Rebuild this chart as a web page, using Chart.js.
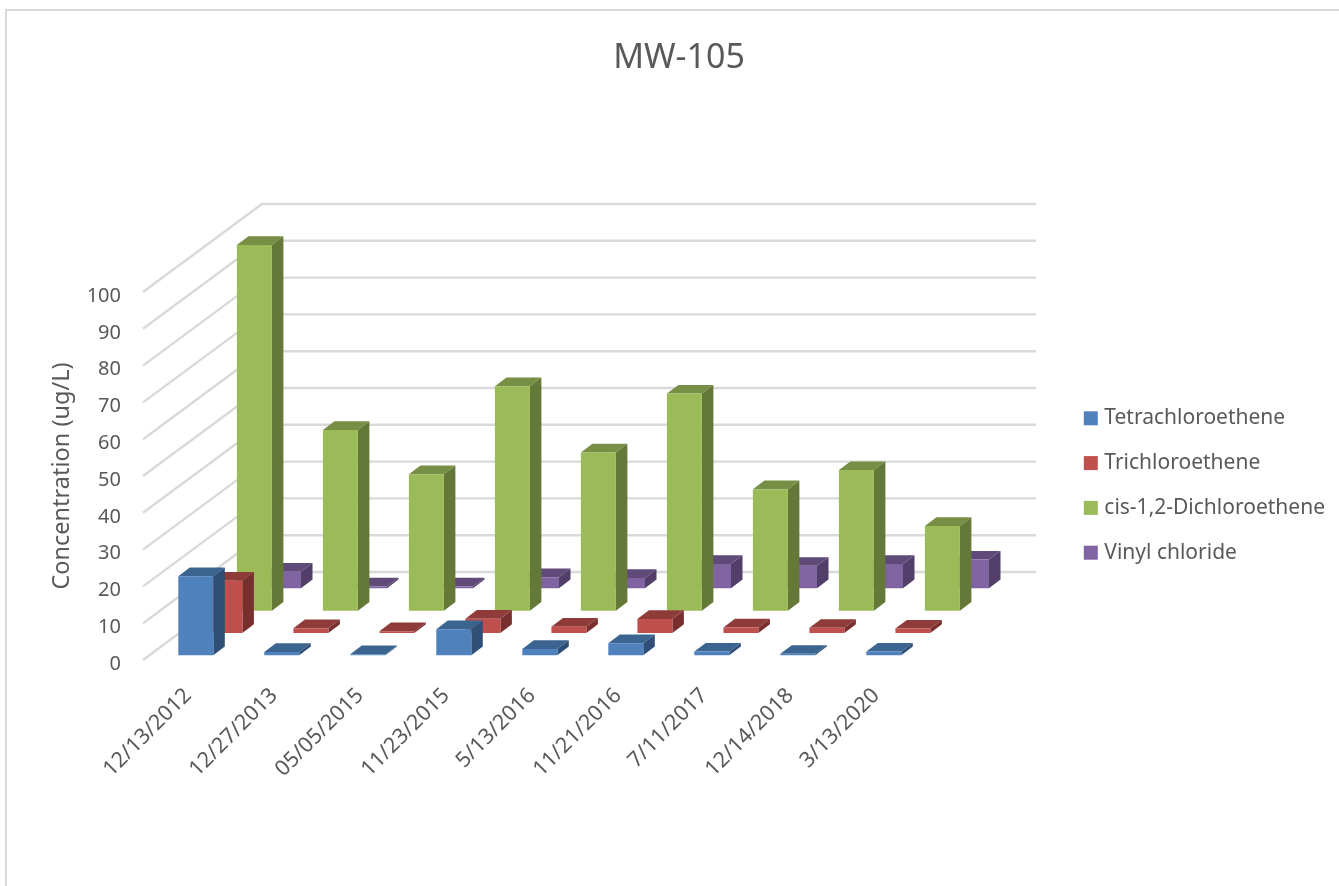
<!DOCTYPE html>
<html>
<head>
<meta charset="utf-8">
<title>MW-105</title>
<script src="https://cdn.jsdelivr.net/npm/chart.js@4/dist/chart.umd.min.js"></script>
<style>
    html, body { margin: 0; padding: 0; background: #fff; overflow: hidden; }
    canvas { display: block; }
</style>
</head>
<body>
<canvas id="chart" width="1339" height="886"></canvas>
<script>
const sampleDates = ['12/13/2012', '12/27/2013', '05/05/2015', '11/23/2015', '5/13/2016', '11/21/2016', '7/11/2017', '12/14/2018', '3/13/2020'];
const tetrachloroethene = [21.5, 0.9, 0.3, 7.1, 1.7, 3.3, 1.0, 0.4, 1.0];
const trichloroethene = [14.2, 1.3, 0.5, 3.9, 1.7, 3.8, 1.5, 1.4, 1.2];
const dichloroethene = [99.4, 49.1, 37.1, 61.0, 43.0, 59.0, 33.0, 38.2, 23.0];
const vinylChloride = [4.5, 0.5, 0.5, 3.0, 2.8, 6.6, 6.1, 6.6, 7.8];
const yTicks = [0, 10, 20, 30, 40, 50, 60, 70, 80, 90, 100];

const TEXT = '#595959';
const GRID = '#d9d9d9';
const FONT = '"Noto Sans", sans-serif';

// pseudo-3D look: how far the back wall sits from the front plane,
// where each row of bars starts, and how deep a bar is
const wall = { dx: 119, dy: 88, width: 774 };
const rows = [
    { dx: 9.8, dy: 4.7 },
    { dx: 38.9, dy: 27 },
    { dx: 68.4, dy: 49.3 },
    { dx: 97.5, dy: 71.7 }
];
const barDepth = { dx: 11.5, dy: 8.7 };

const shades = [
    { front: '#4f81bd', top: '#3c6490', side: '#2f4f76' },
    { front: '#c0504d', top: '#8f3b39', side: '#782f2d' },
    { front: '#9bbb59', top: '#778f44', side: '#647838' },
    { front: '#8064a2', top: '#604a7a', side: '#523f69' }
];

function face(ctx, color, points) {
    ctx.fillStyle = color;
    ctx.beginPath();
    points.forEach((p, i) => i ? ctx.lineTo(p[0], p[1]) : ctx.moveTo(p[0], p[1]));
    ctx.closePath();
    ctx.fill();
}

const walls3d = {
    id: 'walls3d',
    afterLayout(chart) {
        // legend and title sit where the layout engine would not put them
        const legend = chart.legend;
        legend.left = 1064;
        legend.right = legend.left + legend.width;
        legend.top = 384;
        legend.bottom = legend.top + legend.height;
        chart.titleBlock.left = 19;
        chart.titleBlock.right = 1339;
    },
    beforeDraw(chart) {
        // chart frame, only its top and left edges are in view
        const ctx = chart.ctx;
        ctx.save();
        ctx.strokeStyle = GRID;
        ctx.lineWidth = 2;
        ctx.beginPath();
        ctx.moveTo(6, chart.height);
        ctx.lineTo(6, 10);
        ctx.lineTo(chart.width, 10);
        ctx.stroke();
        ctx.restore();
    },
    beforeDatasetsDraw(chart) {
        const ctx = chart.ctx;
        const y = chart.scales.y;
        const x0 = chart.chartArea.left;
        ctx.save();
        ctx.strokeStyle = GRID;
        ctx.lineWidth = 2.4;
        y.ticks.forEach(t => {
            const py = y.getPixelForValue(t.value);
            ctx.beginPath();
            ctx.moveTo(x0, py);
            ctx.lineTo(x0 + wall.dx, py - wall.dy);
            ctx.lineTo(x0 + wall.dx + wall.width, py - wall.dy);
            ctx.stroke();
        });
        ctx.restore();
    },
    beforeDatasetDraw() {
        // the flat bars are replaced by the boxes below
        return false;
    },
    afterDatasetsDraw(chart) {
        const ctx = chart.ctx;
        // back row first so nearer boxes cover it
        for (let i = chart.data.datasets.length - 1; i >= 0; i--) {
            const c = shades[i];
            chart.getDatasetMeta(i).data.forEach(bar => {
                const l = bar.x - bar.width / 2 + rows[i].dx;
                const r = l + bar.width;
                const t = bar.y - rows[i].dy;
                const b = bar.base - rows[i].dy;
                const dx = barDepth.dx, dy = barDepth.dy;
                face(ctx, c.top, [[l, t], [l + dx, t - dy], [r + dx, t - dy], [r, t]]);
                face(ctx, c.side, [[r, t], [r + dx, t - dy], [r + dx, b - dy], [r, b]]);
                face(ctx, c.front, [[l, t], [r, t], [r, b], [l, b]]);
            });
        }
    }
};

// borderWidth only thickens the legend swatch here, the boxes ignore it
function series(label, data, color) {
    return { label, data, backgroundColor: color, borderColor: color, borderWidth: 8 };
}

new Chart(document.getElementById('chart'), {
    type: 'bar',
    data: {
        labels: sampleDates,
        datasets: [
            series('Tetrachloroethene', tetrachloroethene, shades[0].front),
            series('Trichloroethene', trichloroethene, shades[1].front),
            series('cis-1,2-Dichloroethene', dichloroethene, shades[2].front),
            series('Vinyl chloride', vinylChloride, shades[3].front)
        ]
    },
    plugins: [walls3d],
    options: {
        responsive: false,
        animation: false,
        layout: { padding: { left: 0, right: 422, top: 0, bottom: 106 } },
        datasets: { bar: { grouped: false, categoryPercentage: 1, barPercentage: 0.407 } },
        scales: {
            x: {
                grid: { display: false },
                border: { display: false },
                afterFit: s => { s.height = 120; },
                ticks: {
                    autoSkip: false,
                    minRotation: 45,
                    maxRotation: 45,
                    padding: 15,
                    labelOffset: 2,
                    color: TEXT,
                    font: { family: FONT, size: 21.5 }
                }
            },
            y: {
                min: 0,
                max: 100,
                grid: { display: false, drawTicks: false },
                border: { display: false },
                afterFit: s => { s.width = 143; },
                afterBuildTicks: s => { s.ticks = yTicks.map(value => ({ value })); },
                title: {
                    display: true,
                    text: 'Concentration (ug/L)',
                    color: TEXT,
                    font: { family: FONT, size: 23.5 },
                    padding: { top: 48, bottom: 0 }
                },
                ticks: {
                    padding: 22,
                    labelOffset: 4,
                    color: TEXT,
                    font: { family: FONT, size: 20 }
                }
            }
        },
        plugins: {
            tooltip: { enabled: false },
            title: {
                display: true,
                text: 'MW-105',
                color: TEXT,
                font: { family: FONT, size: 34, weight: 'normal' },
                padding: { top: 37.6, bottom: 213.6 }
            },
            legend: {
                position: 'chartArea',
                align: 'start',
                labels: {
                    boxWidth: 6,
                    boxHeight: 6,
                    padding: 23.8,
                    color: TEXT,
                    font: { family: FONT, size: 21 }
                }
            }
        }
    }
});
</script>
</body>
</html>
